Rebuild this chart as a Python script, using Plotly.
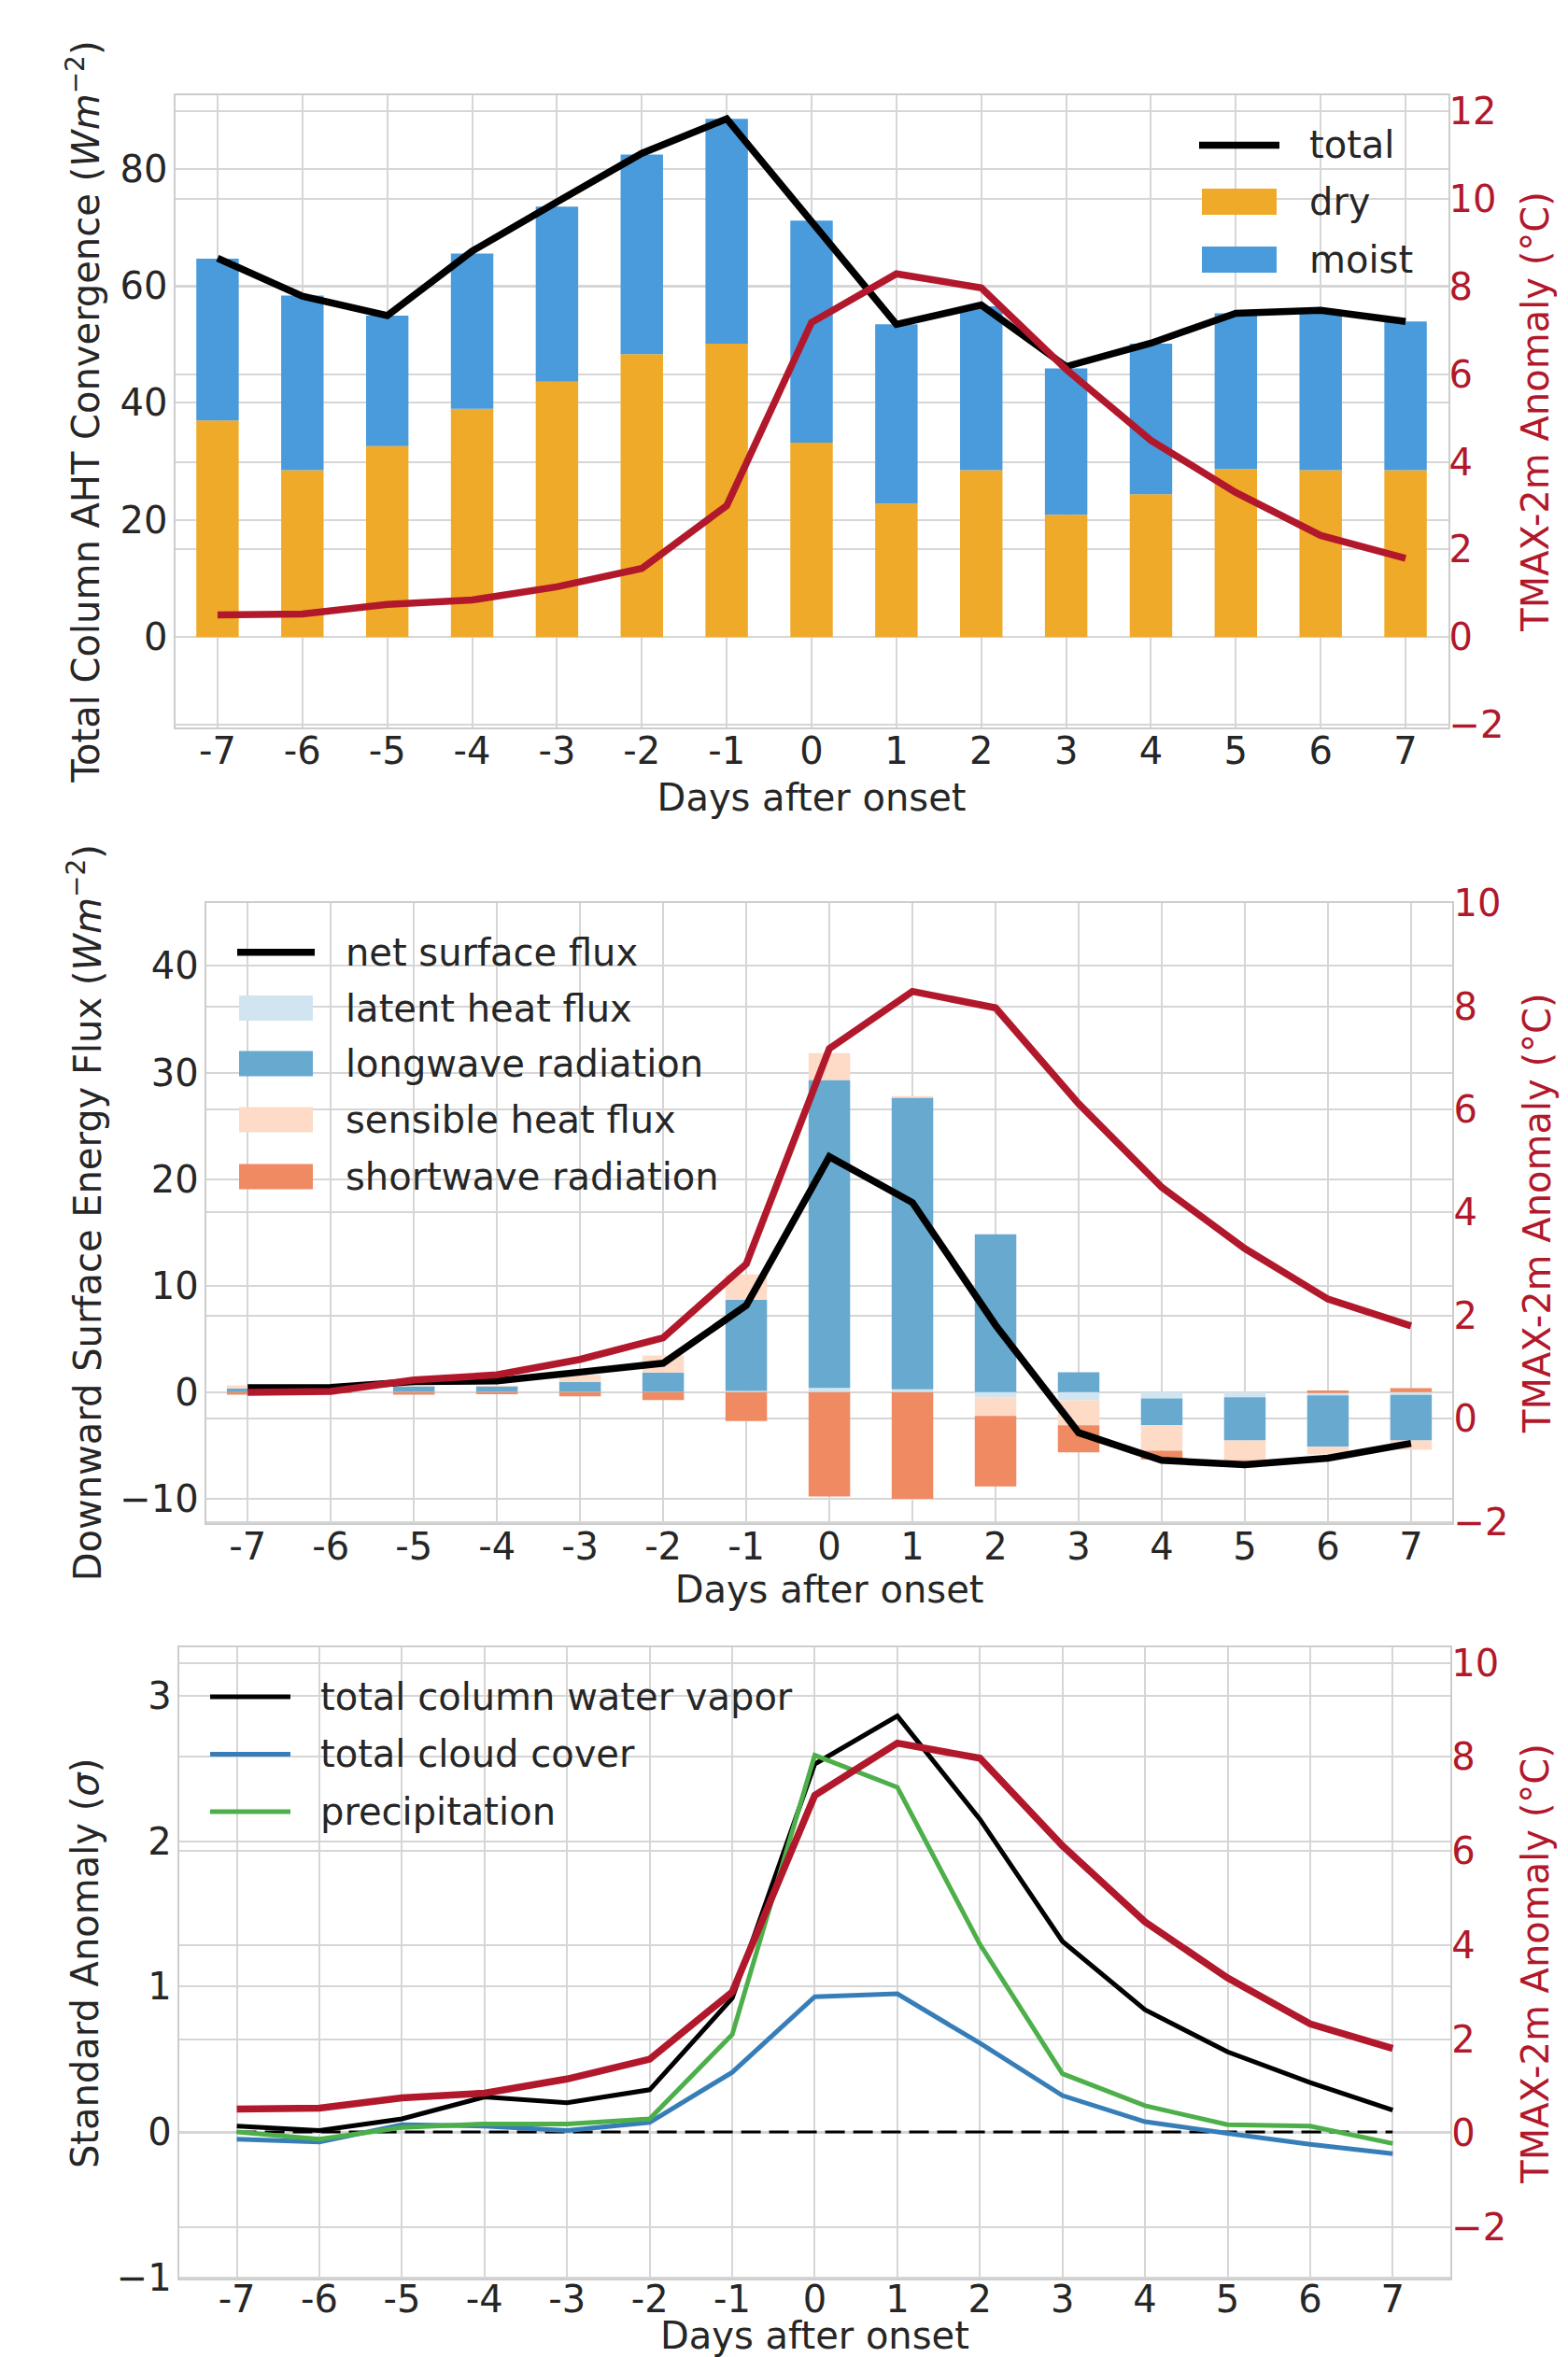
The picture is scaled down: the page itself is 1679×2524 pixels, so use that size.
import plotly.graph_objects as go

W, H = 1679, 2524

# ---------------- data ----------------
DAYS = list(range(-7, 8))
DAY_LABELS = [str(d) for d in DAYS]

# panel 1 : total column AHT convergence (W m-2)
AHT_DRY = [37.0, 28.5, 32.6, 39.0, 43.6, 48.3, 50.1, 33.2, 22.8, 28.5, 20.9, 24.4, 28.7, 28.5, 28.5]
AHT_MOIST = [27.6, 29.8, 22.3, 26.5, 29.9, 34.1, 38.4, 37.9, 30.6, 28.0, 25.0, 25.7, 26.6, 27.0, 25.4]
AHT_TOTAL = [64.7, 58.2, 54.9, 65.9, 74.3, 82.6, 88.5, 71.1, 53.4, 56.7, 46.2, 50.2, 55.3, 55.8, 53.9]

# TMAX-2m anomaly (deg C), shown in every panel
TMAX = [0.51, 0.53, 0.75, 0.85, 1.15, 1.57, 3.0, 7.18, 8.29, 7.97, 6.11, 4.49, 3.30, 2.32, 1.80]

# panel 2 : downward surface energy flux components (W m-2)
LATENT = [0.0, 0.0, 0.02, 0.02, 0.02, 0.03, 0.12, 0.41, 0.26, -0.47, -0.76, -0.58, -0.47, -0.30, -0.26]
LONGWAVE = [0.35, 0.05, 0.53, 0.53, 0.94, 1.81, 8.56, 28.9, 27.39, 14.82, 1.87, -2.51, -4.06, -4.82, -4.27]
SENSIBLE = [0.29, 0.03, 0.05, 0.05, 0.67, 1.61, 2.37, 2.52, 0.09, -1.75, -2.34, -2.40, -1.88, -0.72, -0.88]
SHORTWAVE = [-0.23, -0.03, -0.23, -0.20, -0.38, -0.73, -2.72, -9.79, -10.0, -6.62, -2.54, -0.83, -0.05, 0.15, 0.38]
NET_FLUX = [0.42, 0.45, 1.0, 1.05, 1.88, 2.72, 8.15, 22.1, 17.8, 6.3, -3.8, -6.4, -6.8, -6.2, -4.8]

# panel 3 : standard anomalies (sigma)
TCWV = [0.04, 0.01, 0.09, 0.24, 0.20, 0.29, 0.92, 2.53, 2.86, 2.15, 1.31, 0.84, 0.55, 0.34, 0.15]
CLOUD = [-0.05, -0.07, 0.05, 0.04, 0.01, 0.065, 0.41, 0.93, 0.95, 0.61, 0.25, 0.07, -0.01, -0.085, -0.15]
PRECIP = [0.0, -0.05, 0.03, 0.055, 0.055, 0.09, 0.67, 2.59, 2.37, 1.29, 0.40, 0.18, 0.05, 0.04, -0.08]
ZERO_REF = [0.0] * len(DAYS)

# ---------------- style ----------------
FONT = "DejaVu Sans"
FS = 40
TXT = "#262626"
RED = "#b2182b"
GRID = "#d6d6d6"
SPINE = "#cdcdcd"
C_DRY = "#f0aa29"
C_MOIST = "#4a9bdc"
C_LATENT = "#d1e5f0"
C_LW = "#67a9cf"
C_SENS = "#fddbc7"
C_SW = "#ef8a62"
C_CLOUD = "#377eb8"
C_PRECIP = "#4daf4a"
LW_THICK = 7.5
LW_THIN = 5


def px(x):
    return x / W


def py(y):
    return 1 - y / H


fig = go.Figure()

# ---------- panel 1 ----------
fig.add_trace(go.Bar(x=DAYS, y=AHT_DRY, width=0.5, name="dry", marker=dict(color=C_DRY, line=dict(width=0)),
                     xaxis="x", yaxis="y", showlegend=False))
fig.add_trace(go.Bar(x=DAYS, y=AHT_MOIST, width=0.5, name="moist", marker=dict(color=C_MOIST, line=dict(width=0)),
                     xaxis="x", yaxis="y", showlegend=False))
fig.add_trace(go.Scatter(x=DAYS, y=AHT_TOTAL, mode="lines", name="total", line=dict(color="black", width=LW_THICK),
                         xaxis="x", yaxis="y", showlegend=False))
fig.add_trace(go.Scatter(x=DAYS, y=TMAX, mode="lines", name="TMAX-2m", line=dict(color=RED, width=LW_THICK),
                         xaxis="x", yaxis="y2", showlegend=False))

# ---------- panel 2 ----------
for vals, col, nm in [(LATENT, C_LATENT, "latent heat flux"), (LONGWAVE, C_LW, "longwave radiation"),
                      (SENSIBLE, C_SENS, "sensible heat flux"), (SHORTWAVE, C_SW, "shortwave radiation")]:
    fig.add_trace(go.Bar(x=DAYS, y=vals, width=0.5, name=nm, marker=dict(color=col, line=dict(width=0)),
                         xaxis="x2", yaxis="y3", showlegend=False))
fig.add_trace(go.Scatter(x=DAYS, y=NET_FLUX, mode="lines", name="net surface flux",
                         line=dict(color="black", width=LW_THICK), xaxis="x2", yaxis="y3", showlegend=False))
fig.add_trace(go.Scatter(x=DAYS, y=TMAX, mode="lines", name="TMAX-2m", line=dict(color=RED, width=LW_THICK),
                         xaxis="x2", yaxis="y4", showlegend=False))

# ---------- panel 3 ----------
fig.add_trace(go.Scatter(x=DAYS, y=ZERO_REF, mode="lines", name="zero",
                         line=dict(color="black", width=3, dash="21px,9px"), xaxis="x3", yaxis="y5", showlegend=False))
fig.add_trace(go.Scatter(x=DAYS, y=TCWV, mode="lines", name="total column water vapor",
                         line=dict(color="black", width=LW_THIN), xaxis="x3", yaxis="y5", showlegend=False))
fig.add_trace(go.Scatter(x=DAYS, y=CLOUD, mode="lines", name="total cloud cover",
                         line=dict(color=C_CLOUD, width=LW_THIN), xaxis="x3", yaxis="y5", showlegend=False))
fig.add_trace(go.Scatter(x=DAYS, y=PRECIP, mode="lines", name="precipitation",
                         line=dict(color=C_PRECIP, width=LW_THIN), xaxis="x3", yaxis="y5", showlegend=False))
fig.add_trace(go.Scatter(x=DAYS, y=TMAX, mode="lines", name="TMAX-2m", line=dict(color=RED, width=LW_THICK),
                         xaxis="x3", yaxis="y6", showlegend=False))


# ---------------- axes ----------------
def xax(domain, rng, anchor, standoff, label_standoff=-11):
    return dict(domain=domain, range=rng, anchor=anchor, tickmode="array", tickvals=DAYS, ticktext=DAY_LABELS,
                showgrid=True, gridcolor=GRID, gridwidth=1.6, zeroline=False, showline=True, linecolor=SPINE,
                linewidth=2.2, mirror=True, ticks="", ticklabelstandoff=label_standoff, automargin=False,
                tickfont=dict(family=FONT, size=FS, color=TXT),
                title=dict(text="Days after onset", font=dict(family=FONT, size=FS, color=TXT), standoff=standoff))


def yleft(domain, rng, dtick, anchor, title, standoff):
    return dict(domain=domain, range=rng, anchor=anchor, tick0=0, dtick=dtick, showgrid=True, gridcolor=GRID,
                gridwidth=1.6, zeroline=False, showline=True, linecolor=SPINE, linewidth=2.2, ticks="",
                ticklabelstandoff=-2, automargin=False, tickfont=dict(family=FONT, size=FS, color=TXT),
                title=dict(text=title, font=dict(family=FONT, size=FS, color=TXT), standoff=standoff))


def yright(rng, overlay, anchor, standoff):
    return dict(range=rng, overlaying=overlay, anchor=anchor, side="right", tick0=0, dtick=2, showgrid=True,
                gridcolor=GRID, gridwidth=1.6, zeroline=False, showline=True, linecolor=SPINE, linewidth=2.2,
                ticks="", ticklabelstandoff=-9, automargin=False, tickfont=dict(family=FONT, size=FS, color=RED),
                title=dict(text="TMAX-2m Anomaly (°C)", font=dict(family=FONT, size=FS, color=RED),
                           standoff=standoff))


P1X = [px(187.5), px(1550.5)]
P1Y = [py(778.9), py(102.1)]
P2X = [px(220.7), px(1555.4)]
P2Y = [py(1630.7), py(966.7)]
P3X = [px(191.7), px(1553.2)]
P3Y = [py(2440.4), py(1764.4)]

fig.update_layout(
    width=W, height=H, autosize=False,
    margin=dict(l=0, r=0, t=0, b=0, pad=0),
    paper_bgcolor="white", plot_bgcolor="white",
    barmode="relative", bargap=0.5,
    font=dict(family=FONT, size=FS, color=TXT),
    showlegend=False,
    xaxis=xax(P1X, [-7.5, 7.5], "y", 14),
    yaxis=yleft(P1Y, [-15.4, 92.5], 20, "x", "Total Column AHT Convergence (<i>Wm</i><sup>−2</sup>)", 9),
    yaxis2=yright([-2.056, 12.36], "y", "x", 20),
    xaxis2=xax(P2X, [-7.5, 7.5], "y3", 10),
    yaxis3=yleft(P2Y, [-12.26, 45.94], 10, "x2", "Downward Surface Energy Flux (<i>Wm</i><sup>−2</sup>)", 7),
    yaxis4=yright([-2.02, 10.01], "y3", "x2", 18),
    xaxis3=xax(P3X, [-7.7, 7.7], "y5", 4, label_standoff=-15),
    yaxis5=yleft(P3Y, [-1.011, 3.33], 1, "x3", "Standard Anomaly (<i>σ</i>)", 7),
    yaxis6=yright([-3.10, 10.32], "y5", "x3", 18),
)

# ---------------- legends (drawn as keys + text) ----------------
shapes = []
annotations = []


def leg_line(x0, x1, y, color, width):
    shapes.append(dict(type="line", xref="paper", yref="paper", x0=px(x0), x1=px(x1), y0=py(y), y1=py(y),
                       line=dict(color=color, width=width)))


def leg_rect(x0, x1, y0, y1, color):
    shapes.append(dict(type="rect", xref="paper", yref="paper", x0=px(x0), x1=px(x1), y0=py(y1), y1=py(y0),
                       fillcolor=color, line=dict(width=0)))


def leg_text(x, y, text):
    annotations.append(dict(xref="paper", yref="paper", x=px(x), y=py(y), xanchor="left", yanchor="middle",
                            text=text, showarrow=False, font=dict(family=FONT, size=FS, color=TXT)))


# panel 1 legend
leg_line(1284, 1370, 155.4, "black", LW_THICK)
leg_text(1400, 155.4, "total")
leg_rect(1287, 1367, 202, 230, C_DRY)
leg_text(1400, 216, "dry")
leg_rect(1287, 1367, 264, 292, C_MOIST)
leg_text(1400, 278, "moist")

# panel 2 legend
leg_line(254, 337, 1019.8, "black", LW_THICK)
leg_text(368, 1019.8, "net surface flux")
rows2 = [(1079.5, C_LATENT, "latent heat flux"), (1139, C_LW, "longwave radiation"),
         (1199, C_SENS, "sensible heat flux"), (1260, C_SW, "shortwave radiation")]
for yc, col, lab in rows2:
    leg_rect(256, 335, yc - 13.5, yc + 13.5, col)
    leg_text(368, yc, lab)

# panel 3 legend
for yc, col, lab in [(1817.1, "black", "total column water vapor"), (1878.4, C_CLOUD, "total cloud cover"),
                     (1940.1, C_PRECIP, "precipitation")]:
    leg_line(225, 311, yc, col, LW_THIN)
    leg_text(341, yc, lab)

fig.update_layout(shapes=shapes, annotations=annotations)

fig.write_html("out.html")
